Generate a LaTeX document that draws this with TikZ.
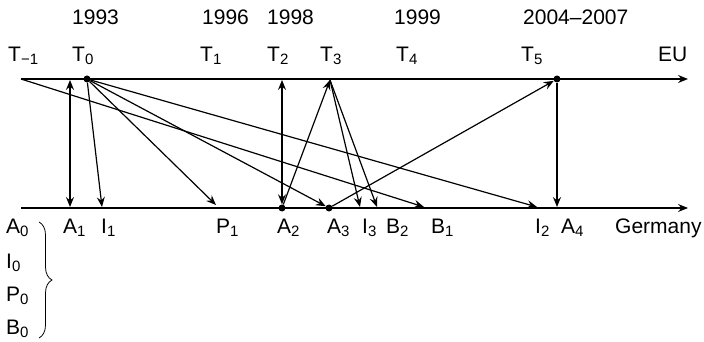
\documentclass[tikz,border=0pt]{standalone}
\usepackage{fontspec}
\setmainfont{Liberation Sans}
\usepackage{tikz}
\usetikzlibrary{arrows.meta,decorations.pathreplacing}
\newcommand{\lsub}[1]{\raisebox{-3pt}{\fontsize{15}{15}\selectfont #1}}

\begin{document}
\begin{tikzpicture}[
  x=1pt, y=-1pt,
  font=\fontsize{21}{25}\selectfont,
  >={Stealth[length=10pt, width=8pt, inset=3.5pt]},
  axis/.style={->, line width=1.6pt},
  link/.style={->, line width=1.2pt},
  both/.style={<->, line width=1.2pt},
  dot/.style={circle, fill=black, inner sep=0pt, minimum size=7pt},
  lbl/.style={anchor=base west, inner sep=0pt}
]
\useasboundingbox (0,0) rectangle (704,342);

% ---------- EU line ----------
\coordinate (tm1) at (21,79);
\coordinate (a1top) at (70,80);
\node[dot] (t0) at (87,79) {};
\coordinate (t2) at (282,80);
\coordinate (t3) at (330,80);
\node[dot] (t5) at (557,79) {};
\coordinate (euend) at (688,79);

% ---------- Germany line ----------
\coordinate (gstart) at (21,208);
\coordinate (a1) at (70,207);
\coordinate (i1) at (102,207);
\coordinate (p1) at (216,205);
\node[dot] (a2) at (282,208) {};
\node[dot] (a3) at (329,208) {};
\coordinate (i3) at (360,207);
\coordinate (b2) at (377,207);
\coordinate (b1) at (424,207);
\coordinate (i2) at (537,207);
\coordinate (a4) at (557,207);
\coordinate (gend) at (688,208);

\draw[axis] (tm1) -- (euend);
\draw[axis] (gstart) -- (gend);

% ---------- influences ----------
\draw[both] (a1top) -- (a1);
\draw[link] (t0) -- (i1);
\draw[link] (t0) -- (p1);
\draw[link] (t0) -- (a3);
\draw[link] (t0) -- (i2);
\draw[link] (tm1) -- (b1);
\draw[both] (t2) -- (a2);
\draw[link] (a2) -- (t3);
\draw[link] (t3) -- (i3);
\draw[link] (t3) -- (b2);
\draw[link] (a3) -- (t5);
\draw[link] (t5) -- (a4);

% ---------- years ----------
\node[lbl] (y93) at (72,25) {1993};
\node[lbl] (y96) at (202,25) {1996};
\node[lbl] (y98) at (267,25) {1998};
\node[lbl] (y99) at (394,25) {1999};
\node[lbl] (y04) at (523,25) {2004–2007};

% ---------- EU labels ----------
\node[lbl] (lTm1) at (8,62) {T\lsub{−1}};
\node[lbl] (lT0) at (72,62) {T\lsub{0}};
\node[lbl] (lT1) at (200,62) {T\lsub{1}};
\node[lbl] (lT2) at (267,62) {T\lsub{2}};
\node[lbl] (lT3) at (320,62) {T\lsub{3}};
\node[lbl] (lT4) at (396,62) {T\lsub{4}};
\node[lbl] (lT5) at (521,62) {T\lsub{5}};
\node[lbl] (lEU) at (658,62) {EU};

% ---------- Germany labels ----------
\node[lbl] (lA0) at (6,233) {A\lsub{0}};
\node[lbl] (lA1) at (63,233) {A\lsub{1}};
\node[lbl] (lI1) at (101,233) {I\lsub{1}};
\node[lbl] (lP1) at (216,233) {P\lsub{1}};
\node[lbl] (lA2) at (277,233) {A\lsub{2}};
\node[lbl] (lA3) at (327,233) {A\lsub{3}};
\node[lbl] (lI3) at (362,233) {I\lsub{3}};
\node[lbl] (lB2) at (386,233) {B\lsub{2}};
\node[lbl] (lB1) at (431,233) {B\lsub{1}};
\node[lbl] (lI2) at (535,233) {I\lsub{2}};
\node[lbl] (lA4) at (561,233) {A\lsub{4}};
\node[lbl] (lGer) at (615,233) {Germany};

% ---------- starting situation ----------
\node[lbl] (lI0) at (6,268) {I\lsub{0}};
\node[lbl] (lP0) at (6,301) {P\lsub{0}};
\node[lbl] (lB0) at (6,334) {B\lsub{0}};
\coordinate (brtop) at (39,222);
\coordinate (brbot) at (39,338);
\draw[decorate, decoration={brace, amplitude=13pt}, line width=0.8pt]
  (brtop) -- (brbot);

\end{tikzpicture}
\end{document}
